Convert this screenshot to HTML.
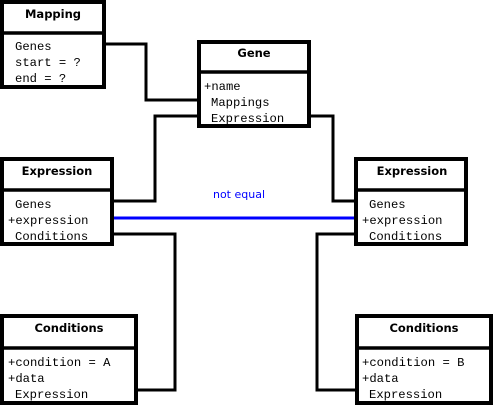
<!DOCTYPE html>
<html><head><meta charset="utf-8"><style>
html,body{margin:0;padding:0;background:#fff;width:493px;height:405px;overflow:hidden}
svg{display:block}
.h{font-family:"DejaVu Sans","Liberation Sans",sans-serif;font-weight:bold;font-size:11.5px;text-anchor:middle}
.t{font-family:"Liberation Mono",monospace;font-size:12.2px}
</style></head><body>
<svg width="493" height="405" viewBox="0 0 493 405" xmlns="http://www.w3.org/2000/svg">
<g fill="none" stroke="#000" stroke-width="3">
<polyline points="105,44 146,44 146,100 197,100"/>
<polyline points="197,116 155,116 155,201 113,201"/>
<polyline points="310,116 333,116 333,201 355,201"/>
<polyline points="113,234 175,234 175,390 137,390"/>
<polyline points="355,234 317,234 317,390 356,390"/>
</g>
<line x1="113" y1="218" x2="355" y2="218" stroke="#0000ff" stroke-width="3"/>
<text x="239" y="198" font-family="DejaVu Sans,Liberation Sans,sans-serif" font-size="11" fill="#0000ff" text-anchor="middle">not equal</text>
<g fill="#fff" stroke="#000" stroke-width="4">
<rect x="2" y="2" width="102" height="85"/>
<rect x="199" y="42" width="110" height="84"/>
<rect x="2" y="159" width="110" height="85"/>
<rect x="356" y="159" width="110" height="85"/>
<rect x="2" y="316" width="134" height="87"/>
<rect x="357" y="316" width="134" height="87"/>
</g>
<g stroke="#000" stroke-width="3.5">
<line x1="2" y1="33" x2="104" y2="33"/>
<line x1="199" y1="72" x2="309" y2="72"/>
<line x1="2" y1="190" x2="112" y2="190"/>
<line x1="356" y1="190" x2="466" y2="190"/>
<line x1="2" y1="348" x2="136" y2="348"/>
<line x1="357" y1="348" x2="491" y2="348"/>
</g>
<text class="h" x="53" y="18">Mapping</text>
<text class="t" x="15" y="50">Genes</text>
<text class="t" x="15" y="66">start = ?</text>
<text class="t" x="15" y="82">end = ?</text>
<text class="h" x="254" y="57">Gene</text>
<text class="t" x="204" y="90">+name</text>
<text class="t" x="211" y="106">Mappings</text>
<text class="t" x="211" y="122">Expression</text>
<text class="h" x="57" y="175">Expression</text>
<text class="t" x="15" y="208">Genes</text>
<text class="t" x="8" y="224">+expression</text>
<text class="t" x="15" y="240">Conditions</text>
<text class="h" x="412" y="175">Expression</text>
<text class="t" x="369" y="208">Genes</text>
<text class="t" x="362" y="224">+expression</text>
<text class="t" x="369" y="240">Conditions</text>
<text class="h" x="69" y="332">Conditions</text>
<text class="t" x="8" y="366">+condition = A</text>
<text class="t" x="8" y="382">+data</text>
<text class="t" x="15" y="398">Expression</text>
<text class="h" x="424" y="332">Conditions</text>
<text class="t" x="362" y="366">+condition = B</text>
<text class="t" x="362" y="382">+data</text>
<text class="t" x="369" y="398">Expression</text>
</svg>
</body></html>
